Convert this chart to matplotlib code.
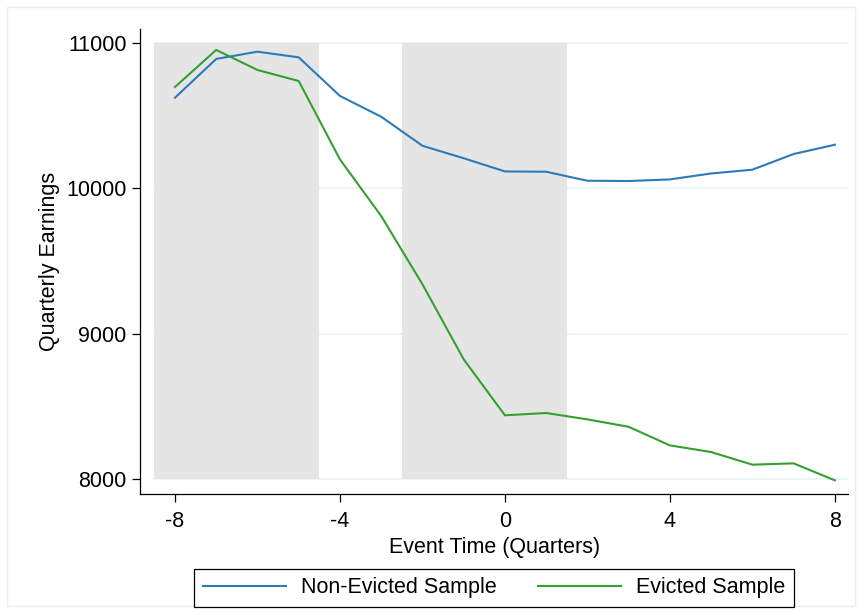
import matplotlib.pyplot as plt
from matplotlib.patches import Rectangle

plt.rcParams['font.family'] = ['Liberation Sans', 'DejaVu Sans']

# event time in quarters relative to the filing
quarters = list(range(-8, 9))

non_evicted = [10625, 10892, 10942, 10903, 10637, 10494, 10294, 10208, 10117,
               10115, 10053, 10051, 10062, 10103, 10129, 10237, 10301]
evicted = [10699, 10954, 10816, 10740, 10200, 9810, 9340, 8823, 8437,
           8453, 8409, 8358, 8230, 8184, 8097, 8106, 7989]

shade_spans = [(-8.5, -4.5), (-2.5, 1.5)]
y_ticks = [8000, 9000, 10000, 11000]
x_ticks = [-8, -4, 0, 4, 8]

fig = plt.figure(figsize=(8.62, 6.11), dpi=100)
fig.patches.append(Rectangle((0.008, 0.008), 0.984, 0.981, transform=fig.transFigure,
                             fill=False, edgecolor='#eeeeee', linewidth=1))
ax = fig.add_axes([0.1628, 0.1915, 0.821, 0.7605])

# grey bands behind the lines
for x0, x1 in shade_spans:
    ax.fill_between([x0, x1], 8000, 11000, color='#e5e5e5', linewidth=0, zorder=1)

for yv in y_ticks:
    ax.plot([-8.5, 8.32], [yv, yv], color='#eaf2f3', linewidth=1.2, zorder=0.5)

ax.plot(quarters, non_evicted, color='#2b7bba', linewidth=1.5, label='Non-Evicted Sample', zorder=3)
ax.plot(quarters, evicted, color='#34a02f', linewidth=1.5, label='Evicted Sample', zorder=3)

ax.set_xlim(-8.84, 8.32)
ax.set_ylim(7895, 11096)
ax.set_xticks(x_ticks)
ax.set_yticks(y_ticks)
ax.set_xticklabels([str(v) for v in x_ticks])
ax.set_yticklabels([str(v) for v in y_ticks])

for side in ['top', 'right']:
    ax.spines[side].set_visible(False)
for side in ['left', 'bottom']:
    ax.spines[side].set_linewidth(0.9)

ax.tick_params(axis='both', labelsize=15.5, length=6, width=0.9, direction='out')
ax.tick_params(axis='y', pad=4)
ax.tick_params(axis='x', pad=6)

ax.set_xlabel('Event Time (Quarters)', fontsize=15.5)
ax.set_ylabel('Quarterly Earnings', fontsize=15.5)
ax.xaxis.set_label_coords(0.5, -0.092)
ax.yaxis.set_label_coords(-0.114, 0.5)

leg = fig.legend(loc='center', bbox_to_anchor=(0.5735, 0.038), ncol=2, fontsize=15.5,
                 handlelength=3.85, handletextpad=0.72, columnspacing=1.9,
                 fancybox=False, edgecolor='black', framealpha=1, borderpad=0.4)
leg.get_frame().set_linewidth(0.9)

fig.savefig('out.png', dpi=100)
